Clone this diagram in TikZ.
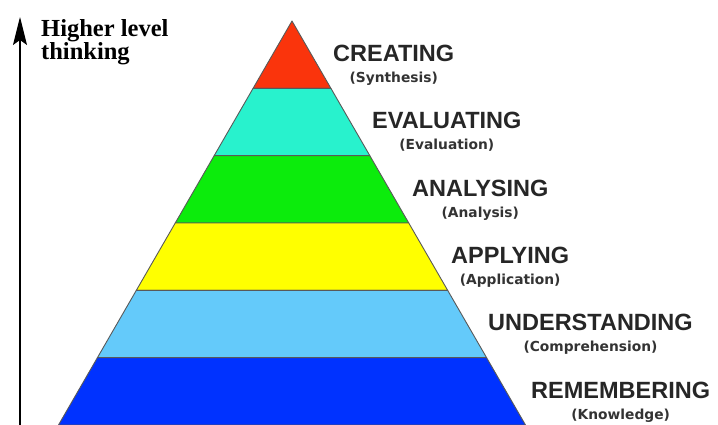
\documentclass[tikz,border=0pt]{standalone}
\usepackage{fontspec}
\setmainfont{Liberation Serif}
\newfontfamily\levelfont{Liberation Sans}
\newfontfamily\subfont{DejaVu Sans}
\usepackage{xcolor}
\usetikzlibrary{arrows.meta,calc}

\definecolor{creatingred}{RGB}{250,52,12}
\definecolor{evaluatingteal}{RGB}{40,242,205}
\definecolor{analysinggreen}{RGB}{12,236,12}
\definecolor{applyingyellow}{RGB}{255,255,0}
\definecolor{understandingblue}{RGB}{100,202,250}
\definecolor{rememberingblue}{RGB}{0,50,255}

\begin{document}
\begin{tikzpicture}[x=1pt,y=-1pt]
\tikzset{band/.style={draw=black!65,line width=0.9pt,line join=round}}
\tikzset{level/.style={inner sep=0pt,text=black!85,font=\levelfont\bfseries\fontsize{23.5}{26}\selectfont}}
\tikzset{sub/.style={inner sep=0pt,text=black!80,font=\subfont\bfseries\fontsize{13.8}{15}\selectfont}}
\tikzset{thinking arrow/.style={line width=1.2pt,-{Stealth[length=28pt,width=14pt,inset=5pt]}}}

\useasboundingbox (0,0) rectangle (718,425);

\coordinate (apex) at (292,21);
\coordinate (baseL) at (58.5,425);
\coordinate (baseR) at (525.5,425);

% pyramid, top to bottom
\foreach \c [count=\k from 0, evaluate=\k as \ta using \k/6, evaluate=\k as \tb using (\k+1)/6] in
  {creatingred,evaluatingteal,analysinggreen,applyingyellow,understandingblue,rememberingblue}
  \filldraw[band,fill=\c] ($(apex)!\ta!(baseL)$) -- ($(apex)!\tb!(baseL)$)
    -- ($(apex)!\tb!(baseR)$) -- ($(apex)!\ta!(baseR)$) -- cycle;

% levels
\node[level,anchor=base west] (creating) at (333,61.5) {CREATING};
\node[sub,anchor=base] (synthesis) at ($(creating.base)+(0,21)$) {(Synthesis)};
\node[level,anchor=base west] (evaluating) at (372,128.8) {EVALUATING};
\node[sub,anchor=base] (evaluation) at ($(evaluating.base)+(0,21)$) {(Evaluation)};
\node[level,anchor=base west] (analysing) at (412,196.2) {ANALYSING};
\node[sub,anchor=base] (analysis) at ($(analysing.base)+(0,21)$) {(Analysis)};
\node[level,anchor=base west] (applying) at (451,263.5) {APPLYING};
\node[sub,anchor=base] (application) at ($(applying.base)+(0,21)$) {(Application)};
\node[level,anchor=base west] (understanding) at (488,330.8) {UNDERSTANDING};
\node[sub,anchor=base] (comprehension) at ($(understanding.base)+(0,21)$) {(Comprehension)};
\node[level,anchor=base west] (remembering) at (531,398.2) {REMEMBERING};
\node[sub,anchor=base] (knowledge) at ($(remembering.base)+(0,21)$) {(Knowledge)};

% axis
\coordinate (axisbottom) at (20,425);
\coordinate (axistop) at (20,17);
\draw[thinking arrow] (axisbottom) -- (axistop);
\node[anchor=base west,inner sep=0pt,align=left,font=\bfseries\fontsize{24.5}{23}\selectfont]
  (higher) at (41,60) {Higher level\\thinking};

\end{tikzpicture}
\end{document}
